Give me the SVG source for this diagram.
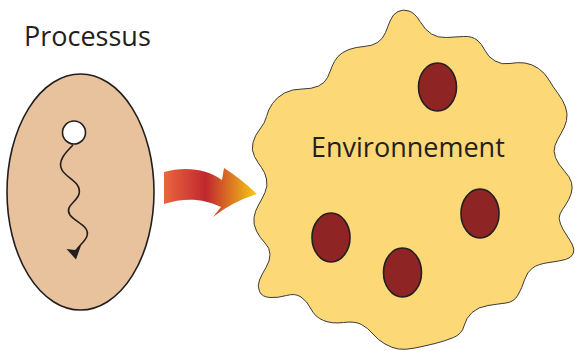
<svg xmlns="http://www.w3.org/2000/svg" width="575" height="351" viewBox="0 0 575 351">
  <defs>
    <linearGradient id="arrowGrad" x1="164" y1="0" x2="257" y2="0" gradientUnits="userSpaceOnUse">
      <stop offset="0" stop-color="#e9673d"/>
      <stop offset="0.45" stop-color="#c1272f"/>
      <stop offset="1" stop-color="#f7cb14"/>
    </linearGradient>
  </defs>
  <style>
    .label { font-family: "Open Sans", "Noto Sans", "DejaVu Sans", sans-serif; font-size: 27px; fill: #231f20; }
    .outline { stroke: #231f20; stroke-width: 1.6; }
    .particle { fill: #8f2424; stroke: #231f20; stroke-width: 1.6; }
  </style>
  <rect width="575" height="351" fill="#ffffff"/>

  <g id="processus">
    <text class="label" x="24" y="46">Processus</text>
    <ellipse class="outline" cx="80.5" cy="192" rx="73.5" ry="118" fill="#e8c29d"/>
    <circle class="outline" cx="74" cy="132.5" r="11.5" fill="#ffffff"/>
    <path d="M73,145 C66,152 57,161 62,170 C66,178 82,182 79,194 C77,202 64,206 70,215 C75,222 90,226 87,236 C85,242 79,245 76,251" fill="none" stroke="#231f20" stroke-width="1.6"/>
    <path d="M76,259.5 L66.5,249 L75,250 L81.5,244 Z" fill="#231f20"/>
  </g>

  <g id="environnement">
    <path d="M398,11.5 Q403,9 409,11 Q415,13 420,21.5 Q425,30 431.5,34 Q438,38 446.5,37.5 Q455,37 463.5,36.5 Q472,36 477,40 Q482,44 485,50.5 Q488,57 495,61 Q502,65 510,63.5 Q518,62 525,63 Q532,64 538.5,68.5 Q545,73 549,80 Q553,87 558,93.5 Q563,100 565.5,107 Q568,114 566.5,120.5 Q565,127 561,133.5 Q557,140 555,145.5 Q553,151 555.5,157.5 Q558,164 564,170.5 Q570,177 571.5,182.5 Q573,188 571,194 Q569,200 565.5,205 Q562,210 560,214 Q558,218 560.5,224 Q563,230 566.5,235 Q570,240 572.5,245 Q575,250 573,254 Q571,258 565.5,259.5 Q560,261 549,262.5 Q538,264 532.5,268 Q527,272 524.5,280 Q522,288 518,295 Q514,302 506,303 Q498,304 488,305.5 Q478,307 472,312.5 Q466,318 464,326 Q462,334 453.5,337.5 Q445,341 435,343.5 Q425,346 415,348 Q405,350 398.5,349 Q392,348 385,344 Q378,340 373,334 Q368,328 361.5,324.5 Q355,321 343.5,322.5 Q332,324 323.5,320.5 Q315,317 311,309 Q307,301 301,297 Q295,293 286.5,295.5 Q278,298 270,297.5 Q262,297 259.5,291.5 Q257,286 259.5,280 Q262,274 266,267.5 Q270,261 270,254.5 Q270,248 265,243 Q260,238 256.5,231 Q253,224 254,217.5 Q255,211 258.5,205 Q262,199 265,192.5 Q268,186 266.5,179 Q265,172 261.5,167.5 Q258,163 254.5,156.5 Q251,150 253,142.5 Q255,135 260,129 Q265,123 266.5,116.5 Q268,110 272.5,103.5 Q277,97 284.5,93 Q292,89 302,89 Q312,89 318.5,86 Q325,83 327.5,77.5 Q330,72 332,66.5 Q334,61 338,56.5 Q342,52 349,49.5 Q356,47 364,46.5 Q372,46 377.5,42.5 Q383,39 385.5,32.5 Q388,26 390.5,20 Q393,14 398,11.5 Z" fill="#fcd877" stroke="#3a3a3a" stroke-width="1"/>
    <text class="label" x="311" y="157">Environnement</text>
    <ellipse class="particle" cx="437.5" cy="87" rx="19" ry="24"/>
    <ellipse class="particle" cx="480" cy="213.5" rx="19" ry="24.5"/>
    <ellipse class="particle" cx="331" cy="237.5" rx="19" ry="24.5"/>
    <ellipse class="particle" cx="402.5" cy="272.5" rx="19" ry="24.5"/>
  </g>

  <g id="connectors">
    <path d="M164,172 C185,166 207,169 222,180 L224,168 Q240,178 257,194 Q232,202 213,217 L221,207 C205,199 185,197 164,204 Z" fill="url(#arrowGrad)"/>
  </g>
</svg>
